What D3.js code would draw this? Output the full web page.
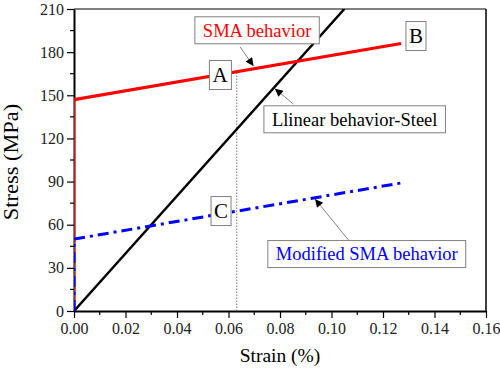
<!DOCTYPE html>
<html>
<head>
<meta charset="utf-8">
<title>Stress-strain behaviour</title>
<script src="https://d3js.org/d3.v7.min.js"></script>
<style>
  body { margin: 0; background: #fff; }
  svg text { font-family: "Liberation Serif", "Times New Roman", Times, "DejaVu Serif", serif; }
</style>
</head>
<body>
<div id="chart"></div>
<script>
// curves (strain in %, stress in MPa)
var steelStrain = [0, 0.105];
var steelStress = [0, 210];
var smaStrain = [0, 0, 0.127];
var smaStress = [0, 147, 186];
var modStrain = [0, 0, 0.127];
var modStress = [0, 50, 89];

// dotted guide at point A
var guideStrain = 0.0632;
var guideStress = 166;

var xTicks = [0, 0.02, 0.04, 0.06, 0.08, 0.10, 0.12, 0.14, 0.16];
var yTicks = [0, 30, 60, 90, 120, 150, 180, 210];

// labels: text, anchor (strain, stress), colour
var noteText = ["SMA behavior", "A", "B", "Llinear behavior-Steel", "C", "Modified SMA behavior"];
var noteX = [0.0711, 0.0567, 0.1328, 0.1090, 0.0571, 0.1137];
var noteY = [195.2, 164.1, 191.2, 133.3, 69.5, 39.6];
var noteColor = ["#ff0000", "#000", "#000", "#000", "#000", "#0000ff"];

// arrows: from (strain, stress) to (strain, stress)
var arrowFrom = [[0.0645, 183.6], [0.0852, 143.9], [0.1068, 48.9]];
var arrowTo = [[0.0697, 170.4], [0.0780, 154.6], [0.0936, 77.9]];

var W = 500, H = 370;
var margin = {top: 9, right: 14, bottom: 59, left: 74};
var width = W - margin.left - margin.right,
    height = H - margin.top - margin.bottom;

var svg = d3.select("#chart").append("svg")
    .attr("width", W).attr("height", H);

svg.append("defs").append("marker")
    .attr("id", "head")
    .attr("viewBox", "0 0 10 10")
    .attr("refX", 10).attr("refY", 5)
    .attr("markerUnits", "userSpaceOnUse")
    .attr("markerWidth", 12).attr("markerHeight", 8)
    .attr("orient", "auto")
  .append("path")
    .attr("d", "M0,0L10,5L0,10z")
    .attr("fill", "#000");

var g = svg.append("g")
    .attr("transform", "translate(" + margin.left + "," + margin.top + ")");

var x = d3.scaleLinear().domain([0, 0.16]).range([0, width]);
var y = d3.scaleLinear().domain([0, 210]).range([height, 0]);

g.append("clipPath").attr("id", "clip")
  .append("rect").attr("width", width).attr("height", height);

// frame top / right
g.append("line").attr("x1", 0).attr("x2", width).attr("y1", 0).attr("y2", 0)
    .attr("stroke", "#808080").attr("stroke-width", 2);
g.append("line").attr("x1", width).attr("x2", width).attr("y1", 0).attr("y2", height)
    .attr("stroke", "#000").attr("stroke-width", 1.5);

// minor ticks
var xMinor = d3.range(0.01, 0.16, 0.02);
var yMinor = d3.range(15, 210, 30);
g.selectAll(".xminor").data(xMinor).enter().append("line")
    .attr("x1", d => x(d)).attr("x2", d => x(d))
    .attr("y1", height).attr("y2", height + 4)
    .attr("stroke", "#000").attr("stroke-width", 1.2);
g.selectAll(".yminor").data(yMinor).enter().append("line")
    .attr("x1", 0).attr("x2", -4)
    .attr("y1", d => y(d)).attr("y2", d => y(d))
    .attr("stroke", "#000").attr("stroke-width", 1.2);

var xAxis = g.append("g")
    .attr("transform", "translate(0," + height + ")")
    .call(d3.axisBottom(x).tickValues(xTicks).tickFormat(d3.format(".2f")).tickSize(7).tickPadding(5).tickSizeOuter(0));
var yAxis = g.append("g")
    .call(d3.axisLeft(y).tickValues(yTicks).tickSize(7).tickPadding(3).tickSizeOuter(0));

[xAxis, yAxis].forEach(function(a) {
  a.attr("font-family", null).attr("font-size", null);
  a.select(".domain").attr("stroke", "#000").attr("stroke-width", 2);
  a.selectAll(".tick line").attr("stroke", "#000").attr("stroke-width", 1.2);
  a.selectAll(".tick text").attr("fill", "#222").style("font-size", "16px");
});

var plot = g.append("g").attr("clip-path", "url(#clip)");

// dotted guide
plot.append("line")
    .attr("x1", x(guideStrain)).attr("x2", x(guideStrain))
    .attr("y1", y(0)).attr("y2", y(guideStress))
    .attr("stroke", "#777").attr("stroke-width", 1)
    .attr("stroke-dasharray", "1.5,1.5");

var line = d3.line().x(d => x(d[0])).y(d => y(d[1]));

plot.append("path")
    .attr("d", line(d3.zip(steelStrain, steelStress)))
    .attr("fill", "none").attr("stroke", "#000").attr("stroke-width", 2.5);

var sma = d3.zip(smaStrain, smaStress);
plot.append("path")
    .attr("d", line(sma.slice(0, 2)))
    .attr("fill", "none").attr("stroke", "#ff0000").attr("stroke-width", 2);
plot.append("path")
    .attr("d", line(sma.slice(1)))
    .attr("fill", "none").attr("stroke", "#ff0000").attr("stroke-width", 3.2);

plot.append("path")
    .attr("d", line(d3.zip(modStrain, modStress)))
    .attr("fill", "none").attr("stroke", "#0000ff").attr("stroke-width", 3)
    .attr("stroke-dasharray", "11,5,3,5");

// arrows
g.selectAll(".arrow").data(d3.zip(arrowFrom, arrowTo)).enter().append("line")
    .attr("x1", d => x(d[0][0])).attr("y1", d => y(d[0][1]))
    .attr("x2", d => x(d[1][0])).attr("y2", d => y(d[1][1]))
    .attr("stroke", "#666").attr("stroke-width", 0.8)
    .attr("marker-end", "url(#head)");

// boxed labels
noteText.forEach(function(t, i) {
  var ng = g.append("g")
      .attr("transform", "translate(" + x(noteX[i]) + "," + y(noteY[i]) + ")");
  var rect = ng.append("rect").attr("fill", "#fff")
      .attr("stroke", "#808080").attr("stroke-width", 1);
  var txt = ng.append("text")
      .attr("text-anchor", "middle").attr("dy", "0.34em")
      .attr("fill", noteColor[i])
      .style("font-size", t.length == 1 ? "21px" : "18.5px")
      .text(t);
  var bb = txt.node().getBBox();
  var padX = t.length == 1 ? 3 : 8;
  var h = t.length == 1 ? 29 : 27;
  rect.attr("x", bb.x - padX).attr("width", bb.width + 2 * padX)
      .attr("y", -h / 2).attr("height", h);
});

// axis titles
svg.append("text")
    .attr("transform", "translate(" + (margin.left + width / 2) + "," + 362 + ")")
    .attr("text-anchor", "middle")
    .style("font-size", "19.5px")
    .text("Strain (%)");

svg.append("text")
    .attr("transform", "translate(18,162) rotate(-90) scale(1.12,1)")
    .attr("text-anchor", "middle")
    .style("font-size", "20px")
    .text("Stress (MPa)");
</script>
</body>
</html>
